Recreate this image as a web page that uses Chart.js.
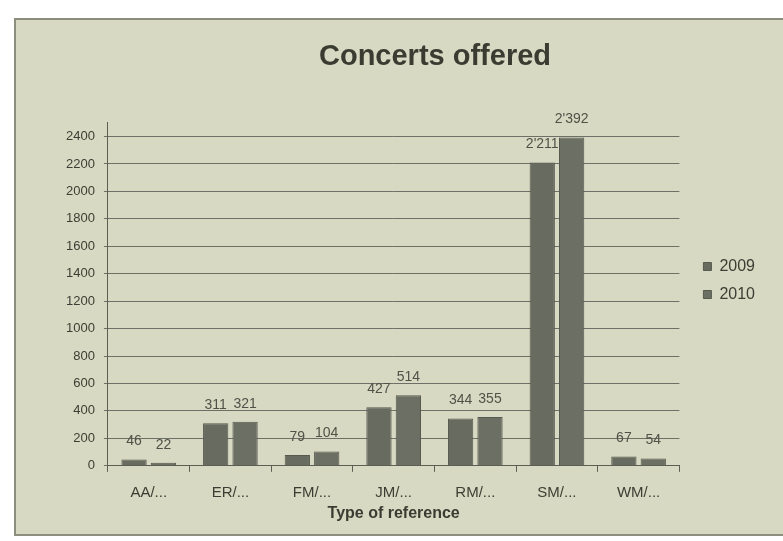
<!DOCTYPE html>
<html>
<head>
<meta charset="utf-8">
<script src="https://cdn.jsdelivr.net/npm/chart.js@4"></script>
<style>
  html, body { margin: 0; padding: 0; background: #fff; }
  #frame {
    position: absolute; left: 14px; top: 18px; width: 769px; height: 518px;
    background: #d8d9c2; border-left: 2px solid #8c8e7e; border-top: 2px solid #8c8e7e;
    border-bottom: 2px solid #8c8e7e; box-sizing: border-box;
  }
  #wrap { position: absolute; left: 0; top: 0; width: 783px; height: 541px; }
</style>
</head>
<body>
<div id="frame"></div>
<div id="wrap"><canvas id="chart" width="783" height="541"></canvas></div>
<script>
const categories = ['AA/...', 'ER/...', 'FM/...', 'JM/...', 'RM/...', 'SM/...', 'WM/...'];
const values2009 = [46, 311, 79, 427, 344, 2211, 67];
const values2010 = [22, 321, 104, 514, 355, 2392, 54];
const yTicks = [0, 200, 400, 600, 800, 1000, 1200, 1400, 1600, 1800, 2000, 2200, 2400];

const textColor = '#3c3e34';
const fam = '"Liberation Sans", Arial, sans-serif';

function fmt(v) {
  return String(v).replace(/\B(?=(\d{3})+(?!\d))/g, "'");
}

// value labels above each bar
const barLabels = {
  id: 'barLabels',
  afterDatasetsDraw(chart) {
    const ctx = chart.ctx;
    ctx.save();
    ctx.font = '14px ' + fam;
    ctx.fillStyle = '#505248';
    ctx.textAlign = 'center';
    ctx.textBaseline = 'bottom';
    chart.data.datasets.forEach((ds, i) => {
      chart.getDatasetMeta(i).data.forEach((bar, j) => {
        ctx.fillText(fmt(ds.data[j]), bar.x, bar.y - 11);
      });
    });
    ctx.restore();
  }
};

// nudge legend and title, like the original slide
const nudge = {
  id: 'nudge',
  afterLayout(chart) {
    const l = chart.legend;
    l.left += 12; l.right += 12;
    l.top += 18; l.bottom += 18;
    const t = chart.titleBlock;
    t.left += 30; t.right += 30;
  }
};

new Chart(document.getElementById('chart'), {
  type: 'bar',
  data: {
    labels: categories,
    datasets: [
      { label: '2009', data: values2009, backgroundColor: '#686b60', borderColor: '#56594e', borderWidth: 1 },
      { label: '2010', data: values2010, backgroundColor: '#6c6f64', borderColor: '#56594e', borderWidth: 1 }
    ]
  },
  options: {
    responsive: false,
    animation: false,
    layout: { padding: { left: 57, right: 30, top: 0, bottom: 16 } },
    datasets: { bar: { categoryPercentage: 0.72, barPercentage: 0.86 } },
    plugins: {
      title: {
        display: true,
        text: 'Concerts offered',
        color: '#3a3c32',
        font: { family: fam, size: 29, weight: 'bold' },
        padding: { top: 40, bottom: 48 }
      },
      legend: {
        position: 'right',
        labels: {
          color: textColor,
          font: { family: fam, size: 16 },
          boxWidth: 8, boxHeight: 8, padding: 12
        }
      },
      tooltip: { enabled: false }
    },
    scales: {
      x: {
        grid: { display: true, drawOnChartArea: false, color: '#5c5e54', tickLength: 6, offset: true },
        border: { color: '#5c5e54', width: 1 },
        ticks: { color: textColor, font: { family: fam, size: 15 }, padding: 12 },
        title: {
          display: true, text: 'Type of reference', color: '#3a3c32',
          font: { family: fam, size: 16, weight: 'bold' }, padding: { top: -10, bottom: 2 }
        }
      },
      y: {
        min: 0, max: 2500,
        afterBuildTicks: s => { s.ticks = yTicks.map(v => ({ value: v })); },
        grid: { color: '#6c7066', lineWidth: 1, tickLength: 4 },
        border: { color: '#5c5e54', width: 1 },
        ticks: { color: textColor, font: { family: fam, size: 13 }, padding: 9, callback: v => String(v) }
      }
    }
  },
  plugins: [barLabels, nudge]
});
</script>
</body>
</html>
